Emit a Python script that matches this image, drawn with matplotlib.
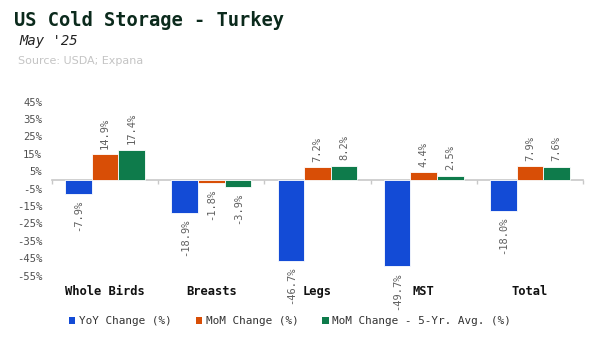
import numpy as np
import matplotlib
matplotlib.use("Agg")
import matplotlib.pyplot as plt
from matplotlib.patches import Patch

# cold storage stocks, percent change
categories = ["Whole Birds", "Breasts", "Legs", "MST", "Total"]
yoy = [-7.9, -18.9, -46.7, -49.7, -18.0]
mom = [14.9, -1.8, 7.2, 4.4, 7.9]
mom_5yr = [17.4, -3.9, 8.2, 2.5, 7.6]
series_names = ["YoY Change (%)", "MoM Change (%)", "MoM Change - 5-Yr. Avg. (%)"]
yticks = [45, 35, 25, 15, 5, -5, -15, -25, -35, -45, -55]

colors = ["#134bd6", "#d84e06", "#0e7b4b"]
mono = "DejaVu Sans Mono"

fig = plt.figure(figsize=(5.99, 3.40), dpi=100)
ax = fig.add_axes([52 / 599, 1 - 275.7 / 340, (583 - 52) / 599, (275.7 - 101.7) / 340])

x = np.arange(len(categories))
width = 0.25
for i, (vals, col) in enumerate(zip([yoy, mom, mom_5yr], colors)):
    pos = x + (i - 1) * width
    ax.bar(pos, vals, width, color=col, edgecolor="white", linewidth=0.6, zorder=2)
    for px, v in zip(pos, vals):
        if v >= 0:
            ax.annotate(f"{v:.1f}%", (px, v), xytext=(0, 4), textcoords="offset points",
                        rotation=90, ha="center", va="bottom", fontsize=7.5,
                        family=mono, color="#606060")
        else:
            ax.annotate(f"{v:.1f}%", (px, v), xytext=(0, -4), textcoords="offset points",
                        rotation=90, ha="center", va="top", fontsize=7.5,
                        family=mono, color="#606060")

ax.set_xlim(-0.5, len(categories) - 0.5)
ax.set_ylim(-55, 45)
ax.set_yticks(yticks)
ax.set_yticklabels([f"{t}%" for t in yticks], family=mono, fontsize=7.6, color="#505050")
ax.tick_params(axis="y", length=0, pad=7)

# group separators hang from the zero line
ax.spines["bottom"].set_position(("data", 0))
ax.spines["bottom"].set_color("#c8c8c8")
ax.spines["bottom"].set_linewidth(1.2)
ax.spines["bottom"].set_zorder(1)
for s in ["top", "right", "left"]:
    ax.spines[s].set_visible(False)
ax.set_xticks(np.arange(len(categories) + 1) - 0.5)
ax.set_xticklabels([])
ax.tick_params(axis="x", length=3, color="#c8c8c8", width=1)

for xi, c in zip(x, categories):
    ax.text(xi, -0.09, c, transform=ax.get_xaxis_transform(), ha="center", va="center",
            family=mono, fontsize=8.7, fontweight="bold", color="#111111")

fig.text(14 / 599, 1 - 20 / 340, "US Cold Storage - Turkey", family=mono, fontsize=13.5,
         fontweight="bold", color="#0b2a1c", va="center")
fig.text(19 / 599, 1 - 41 / 340, "May '25", family=mono, fontsize=10, style="italic",
         color="#222222", va="center")
fig.text(18 / 599, 1 - 61 / 340, "Source: USDA; Expana", fontsize=8.0, color="#c4c4c4",
         va="center")

handles = [Patch(facecolor=c, edgecolor="none") for c in colors]
fig.legend(handles, series_names, loc="center", bbox_to_anchor=(290 / 599, 1 - 321 / 340),
           ncol=3, frameon=False, prop={"family": mono, "size": 7.9},
           handlelength=0.6, handleheight=0.6, handletextpad=0.3, columnspacing=2.2,
           labelcolor="#333333")

fig.savefig("out.png", dpi=100)
